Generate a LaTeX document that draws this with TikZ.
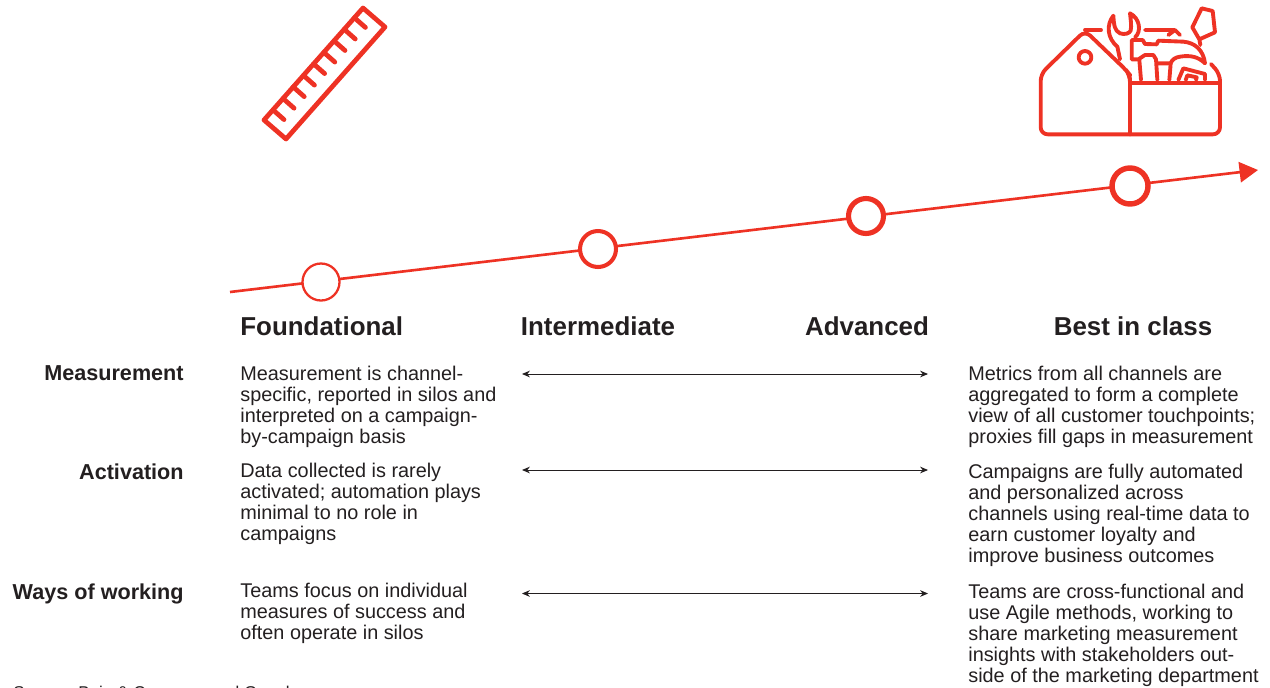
\documentclass[tikz,border=0pt]{standalone}
\usepackage{fontspec}
\setmainfont{Liberation Sans}
\usetikzlibrary{arrows.meta}
\definecolor{bainred}{RGB}{238,50,36}
\definecolor{bainink}{RGB}{35,31,32}
\tikzset{
  stage/.style={circle,draw=bainred,fill=white,minimum size=#1,inner sep=0pt},
  heading/.style={font=\fontsize{14.75}{16}\selectfont\bfseries,text=bainink,inner sep=0pt,anchor=base},
  rowlabel/.style={font=\fontsize{12.3}{14}\selectfont\bfseries,text=bainink,inner sep=0pt,anchor=base east},
  body/.style={font=\fontsize{11.3}{11.9}\selectfont,text=bainink,inner sep=0pt,anchor=north west,align=left},
  span/.style={<->,>={Stealth[length=4.5pt,width=3.8pt]},line width=0.5pt,bainink},
  icon/.style={bainred,line width=2.2pt,line cap=round,line join=round}
}
\begin{document}
\begin{tikzpicture}[x=0.02cm,y=-0.02cm]
    \useasboundingbox (0,0) rectangle (1270,687);
    \clip (0,0) rectangle (1270,687);
    % Ruler
    \draw[icon,line width=2.7pt] (363,8)--(385,27)--(286,139)--(264,120)--cycle;
    \foreach \s in {13,28.4,43.8,59.2,74.6,90,105.4,120.8,136}
        \draw[icon,line width=2.7pt] ({363-.662*\s},{8+.749*\s})--++(11,9.7);
    % Toolbox
    \begin{scope}[shift={(1020,0)},scale=1/3,icon]
        \draw[rounded corners=4pt] (330,248)--(330,225)--(318,210)--(195,92)--(62,222)--(62,403)--(600,403)--(600,222)--(573,192);
        \draw (330,235)--(330,403) (330,248)--(600,248) (195,90)--(243,90);
        \draw (195,172) circle (19);
        % wrench
        \draw (300,178)--(292,140) .. controls (262,115) and (258,75) .. (280,47) .. controls (282,75) and (283,92) .. (300,100) .. controls (315,105) and (328,100) .. (332,92) .. controls (335,75) and (332,60) .. (330,40) .. controls (360,55) and (365,95) .. (345,112);
        % hammer
        \draw (375,90)--(465,90) (445,105)--(465,90)--(480,105);
        \draw (412,240)--(408,178)--(400,165)--(375,165)--(355,178)--(335,178)--(335,120)--(368,120)--(375,132)--(410,133)--(415,122)--(490,125) .. controls (525,128) and (550,150) .. (555,190) .. controls (535,170) and (510,165) .. (480,170) .. controls (465,172) and (455,180) .. (452,190)--(448,240);
        \draw (358,180)--(363,240) (412,190)--(450,190);
        \draw (475,240)--(490,205)--(555,222)--(555,240) (497,240)--(502,226)--(530,232)--(528,240);
        % screwdriver
        \draw (545,25)--(578,33)--(585,97)--(538,118)--(517,82)--cycle (538,118)--(541,135);
    \end{scope}
    % Maturity line
    \coordinate (start) at (230,292);
    \coordinate (tip) at (1258,170);
    \draw[bainred,line width=1.5pt,-{Triangle[length=10.5pt,width=11.5pt]}] (start)--(tip);
    \node[stage=37*0.02cm,line width=1.3pt] (s1) at (321,282) {};
    \node[stage=36*0.02cm,line width=2.3pt] (s2) at (598,249) {};
    \node[stage=35*0.02cm,line width=2.9pt] (s3) at (866,216) {};
    \node[stage=36*0.02cm,line width=3.1pt] (s4) at (1130,186) {};
    % Column headings
    \node[heading,anchor=base west] (foundational) at (240,335) {Foundational};
    \node[heading] (intermediate) at (598,335) {Intermediate};
    \node[heading] (advanced) at (867,335) {Advanced};
    \node[heading] (bestinclass) at (1133,335) {Best in class};
    % Row labels
    \node[rowlabel] (measurement) at (184,380) {Measurement};
    \node[rowlabel] (activation) at (184,479) {Activation};
    \node[rowlabel] (ways) at (184,599) {Ways of working};
    % Foundational column
    \node[body] (f1) at (240,366) {Measurement is channel-\\specific, reported in silos and\\interpreted on a campaign-\\by-campaign basis};
    \node[body] (f2) at (240,463) {Data collected is rarely\\activated; automation plays\\minimal to no role in\\campaigns};
    \node[body] (f3) at (240,583) {Teams focus on individual\\measures of success and\\often operate in silos};
    % Best in class column
    \node[body] (b1) at (968,366) {Metrics from all channels are\\aggregated to form a complete\\view of all customer touchpoints;\\proxies fill gaps in measurement};
    \node[body] (b2) at (968,464) {Campaigns are fully automated\\and personalized across\\channels using real-time data to\\earn customer loyalty and\\improve business outcomes};
    \node[body] (b3) at (968,584) {Teams are cross-functional and\\use Agile methods, working to\\share marketing measurement\\insights with stakeholders out-\\side of the marketing department};
    % Arrows between columns
    \coordinate (m1) at (522,374); \coordinate (m2) at (928,374);
    \coordinate (a1) at (522,470); \coordinate (a2) at (928,470);
    \coordinate (w1) at (522,593.5); \coordinate (w2) at (928,593.5);
    \draw[span] (m1)--(m2);
    \draw[span] (a1)--(a2);
    \draw[span] (w1)--(w2);
    % Source line, cut by the page edge
    \node[font=\fontsize{9.7}{11}\selectfont,text=bainink,inner sep=0pt,anchor=base west] (source) at (13,698) {Source: Bain \& Company and Google};
\end{tikzpicture}
\end{document}
